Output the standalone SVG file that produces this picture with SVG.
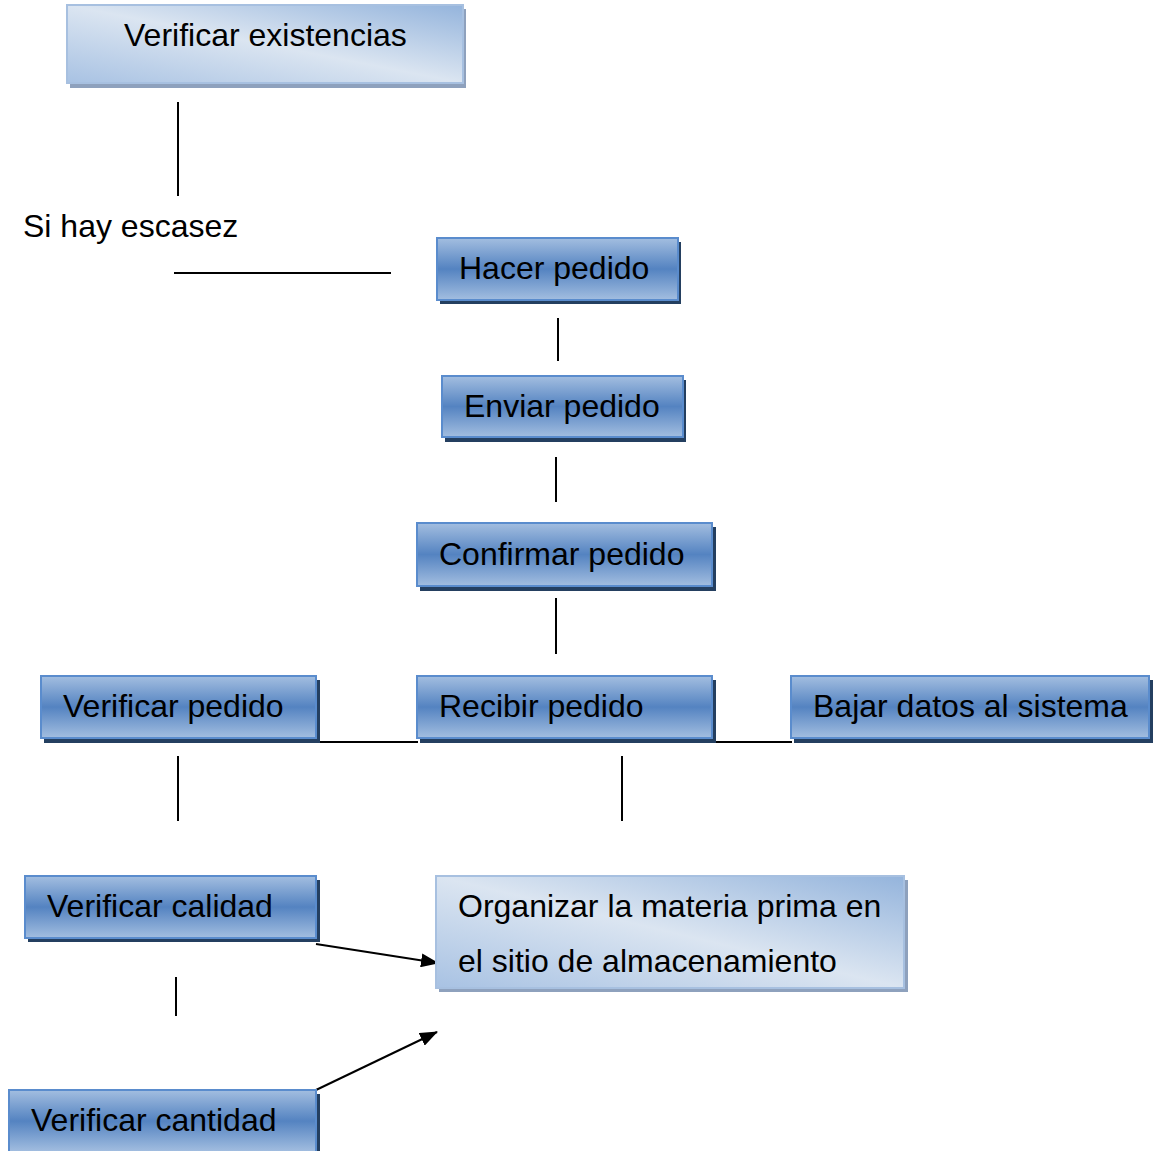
<svg xmlns="http://www.w3.org/2000/svg" width="1153" height="1151" viewBox="0 0 1153 1151">
<defs>
<linearGradient id="gDark" x1="0" y1="0" x2="0" y2="1">
<stop offset="0" stop-color="#a3bee0"/>
<stop offset="0.5" stop-color="#5483c1"/>
<stop offset="1" stop-color="#a3bee0"/>
</linearGradient>
<linearGradient id="gLight" x1="1" y1="0" x2="0" y2="1">
<stop offset="0" stop-color="#94b4dc"/>
<stop offset="0.5" stop-color="#dbe5f1"/>
<stop offset="1" stop-color="#a8c2e3"/>
</linearGradient>
<marker id="arr" markerWidth="18" markerHeight="14" refX="17" refY="7" orient="auto" markerUnits="userSpaceOnUse" viewBox="0 0 18 14">
<path d="M0,0 L18,7 L0,14 Z" fill="#000"/>
</marker>
<style>
.dk{fill:url(#gDark);stroke:#5a8ccd;stroke-width:2}
.dks{fill:#243f60}
.lt{fill:url(#gLight);stroke:#a7c0e0;stroke-width:2}
.lts{fill:#8ea1bd}
text{font-family:"Liberation Sans",Arial,sans-serif;font-size:32px;fill:#000}
.ln{stroke:#000;stroke-width:2;fill:none}
</style>
</defs>
<g id="connectors">
<line class="ln" x1="178" y1="102" x2="178" y2="196"/>
<line class="ln" x1="174" y1="273" x2="391" y2="273"/>
<line class="ln" x1="558" y1="318" x2="558" y2="361"/>
<line class="ln" x1="556" y1="457" x2="556" y2="502"/>
<line class="ln" x1="556" y1="598" x2="556" y2="654"/>
<line class="ln" x1="317" y1="742" x2="418" y2="742"/>
<line class="ln" x1="712" y1="742" x2="792" y2="742"/>
<line class="ln" x1="178" y1="756" x2="178" y2="821"/>
<line class="ln" x1="622" y1="756" x2="622" y2="821"/>
<line class="ln" x1="176" y1="977" x2="176" y2="1016"/>
<line class="ln" x1="316" y1="944" x2="438" y2="963" marker-end="url(#arr)"/>
<line class="ln" x1="316" y1="1090" x2="437" y2="1032" marker-end="url(#arr)"/>
</g>
<text id="lbl-escasez" x="23" y="237">Si hay escasez</text>
<g id="n-existencias">
<rect class="lts" x="70" y="9" width="396" height="79"/>
<rect class="lt" x="67" y="5" width="396" height="78"/>
<text x="124" y="46">Verificar existencias</text>
</g>
<g id="n-hacer">
<rect class="dks" x="440" y="242" width="241" height="62"/>
<rect class="dk" x="437" y="238" width="241" height="62"/>
<text x="459" y="279">Hacer pedido</text>
</g>
<g id="n-enviar">
<rect class="dks" x="445" y="380" width="241" height="62"/>
<rect class="dk" x="442" y="376" width="241" height="61"/>
<text x="464" y="417">Enviar pedido</text>
</g>
<g id="n-confirmar">
<rect class="dks" x="420" y="527" width="296" height="64"/>
<rect class="dk" x="417" y="523" width="295" height="63"/>
<text x="439" y="565">Confirmar pedido</text>
</g>
<g id="n-verificar-pedido">
<rect class="dks" x="44" y="680" width="276" height="63"/>
<rect class="dk" x="41" y="676" width="275" height="62"/>
<text x="63" y="717">Verificar pedido</text>
</g>
<g id="n-recibir">
<rect class="dks" x="420" y="680" width="296" height="63"/>
<rect class="dk" x="417" y="676" width="295" height="62"/>
<text x="439" y="717">Recibir pedido</text>
</g>
<g id="n-bajar">
<rect class="dks" x="794" y="680" width="359" height="63"/>
<rect class="dk" x="791" y="676" width="358" height="62"/>
<text x="813" y="717">Bajar datos al sistema</text>
</g>
<g id="n-calidad">
<rect class="dks" x="28" y="880" width="292" height="62"/>
<rect class="dk" x="25" y="876" width="291" height="62"/>
<text x="47" y="917">Verificar calidad</text>
</g>
<g id="n-organizar">
<rect class="lts" x="439" y="880" width="469" height="112"/>
<rect class="lt" x="436" y="876" width="468" height="112"/>
<text x="458" y="917">Organizar la materia prima en</text>
<text x="458" y="972">el sitio de almacenamiento</text>
</g>
<g id="n-cantidad">
<rect class="dks" x="12" y="1094" width="308" height="62"/>
<rect class="dk" x="9" y="1090" width="307" height="62"/>
<text x="31" y="1131">Verificar cantidad</text>
</g>
</svg>
